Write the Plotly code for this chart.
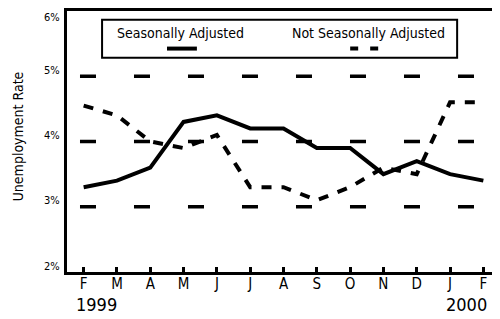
import plotly.graph_objects as go

months = ["F", "M", "A", "M", "J", "J", "A", "S", "O", "N", "D", "J", "F"]
seasonally_adjusted = [3.3, 3.4, 3.6, 4.3, 4.4, 4.2, 4.2, 3.9, 3.9, 3.5, 3.7, 3.5, 3.4]
not_seasonally_adjusted = [4.55, 4.4, 4.0, 3.9, 4.1, 3.3, 3.3, 3.1, 3.3, 3.6, 3.5, 4.6, 4.6]
y_ticks = [2, 3, 4, 5, 6]
y_tick_labels = ["2%", "3%", "4%", "5%", "6%"]
grid_levels = [3, 4, 5]
year_labels = [(0.4, "1999"), (11.5, "2000")]

FONT = "Liberation Sans Narrow, Arial Narrow, DejaVu Sans Condensed, sans-serif"
x = list(range(len(months)))

fig = go.Figure()
fig.add_trace(go.Scatter(x=x, y=seasonally_adjusted, mode="lines",
                         line=dict(color="black", width=4), name="Seasonally Adjusted",
                         showlegend=False))
fig.add_trace(go.Scatter(x=x, y=not_seasonally_adjusted, mode="lines",
                         line=dict(color="black", width=4, dash="10px,10px"),
                         name="Not Seasonally Adjusted", showlegend=False))

shapes = []
for g in grid_levels:
    shapes.append(dict(type="line", xref="x", yref="y", x0=-0.11, x1=12.5, y0=g, y1=g,
                       line=dict(color="black", width=3.5, dash="16px,38px"), layer="below"))
# legend box
shapes.append(dict(type="rect", xref="paper", yref="paper", x0=0.081, x1=0.901, y0=0.821, y1=0.966,
                   line=dict(color="black", width=2), fillcolor="white"))
shapes.append(dict(type="line", xref="paper", yref="paper", x0=0.231, x1=0.300, y0=0.856, y1=0.856,
                   line=dict(color="black", width=4)))
shapes.append(dict(type="line", xref="paper", yref="paper", x0=0.654, x1=0.720, y0=0.856, y1=0.856,
                   line=dict(color="black", width=4, dash="8px,12px")))

annotations = [
    dict(text="Seasonally Adjusted", xref="paper", yref="paper", x=0.261, y=0.916,
         xanchor="center", yanchor="middle",
         showarrow=False, font=dict(size=14, family=FONT, color="black")),
    dict(text="Not Seasonally Adjusted", xref="paper", yref="paper", x=0.697, y=0.916,
         xanchor="center", yanchor="middle",
         showarrow=False, font=dict(size=14, family=FONT, color="black")),
    dict(text="Unemployment Rate", xref="paper", yref="paper", x=-0.113, y=0.52,
         xanchor="center", yanchor="middle",
         textangle=-90, showarrow=False, font=dict(size=14, family=FONT, color="black")),
]
for xv, t in year_labels:
    annotations.append(dict(text=t, xref="x", yref="paper", x=xv, y=-0.124,
                            xanchor="center", yanchor="middle",
                            showarrow=False, font=dict(size=18, family=FONT, color="black")))
for v, t in zip(y_ticks, y_tick_labels):
    annotations.append(dict(text=t, xref="paper", yref="y", x=0, y=v, xanchor="right",
                            yanchor="middle", xshift=-5, yshift=(6 if v < max(y_ticks) else -6),
                            showarrow=False, font=dict(size=11, family=FONT, color="black")))

# page body has an 8px margin, so the figure is 8px smaller and shifted by 8px
fig.update_layout(
    width=492, height=311,
    margin=dict(l=59, r=0, t=1, b=47),
    paper_bgcolor="white", plot_bgcolor="white",
    shapes=shapes, annotations=annotations,
    font=dict(family=FONT, color="black"),
    xaxis=dict(range=[-0.5, 12.5], tickvals=x, ticktext=months, showgrid=False, zeroline=False,
               showline=True, linecolor="black", linewidth=3, mirror=True,
               ticks="inside", ticklen=5, tickwidth=3, tickcolor="black",
               tickfont=dict(size=15, family=FONT), ticklabelstandoff=-4),
    yaxis=dict(range=[2, 6], tickvals=y_ticks, showticklabels=False, showgrid=False,
               zeroline=False, showline=True, linecolor="black", linewidth=3, ticks=""),
)

fig.write_html("out.html")
